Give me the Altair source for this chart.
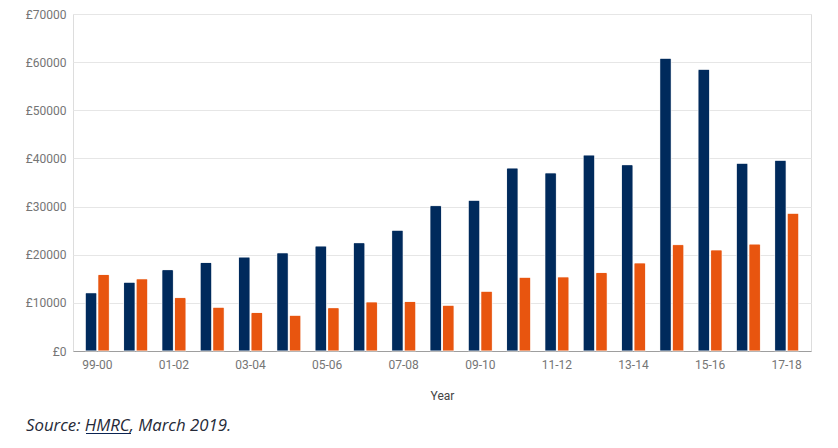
import altair as alt
import pandas as pd

years = ["99-00", "00-01", "01-02", "02-03", "03-04", "04-05", "05-06", "06-07",
         "07-08", "08-09", "09-10", "10-11", "11-12", "12-13", "13-14", "14-15",
         "15-16", "16-17", "17-18"]
series_a = [12100, 14300, 16900, 18400, 19500, 20400, 21800, 22500, 25100, 30200,
            31300, 38000, 37000, 40700, 38700, 60800, 58500, 39000, 39600]
series_b = [15900, 15000, 11100, 9100, 8000, 7400, 9000, 10200, 10300, 9500,
            12400, 15300, 15400, 16300, 18300, 22100, 21000, 22200, 28600]
series_names = ["A", "B"]
shown_labels = years[::2]

rows = []
for i, y in enumerate(years):
    rows.append({"Year": y, "Series": series_names[0], "Value": series_a[i]})
    rows.append({"Year": y, "Series": series_names[1], "Value": series_b[i]})
df = pd.DataFrame(rows)

label_expr = "indexof(" + str(shown_labels).replace("'", '"') + ", datum.value) >= 0 ? datum.value : ''"

bars = alt.Chart(df).mark_bar(cornerRadiusTopLeft=1.5, cornerRadiusTopRight=1.5,
                              stroke="white", strokeWidth=0.5).encode(
    x=alt.X("Year:N", sort=years, title="Year",
            scale=alt.Scale(paddingInner=0.37, paddingOuter=0.32),
            axis=alt.Axis(labelAngle=0, labelExpr=label_expr, ticks=False,
                          domainColor="#9e9e9e", labelColor="#757575",
                          labelFont="Roboto", labelFontSize=12, labelPadding=8,
                          titleFont="Roboto", titleFontSize=12, titleFontWeight="normal",
                          titleColor="#444444", titlePadding=20, labelOverlap=False)),
    xOffset=alt.XOffset("Series:N", scale=alt.Scale(paddingInner=0.08)),
    y=alt.Y("Value:Q", scale=alt.Scale(domain=[0, 70000]), title=None,
            axis=alt.Axis(values=list(range(0, 70001, 10000)), labelExpr="'£' + datum.value",
                          domain=False, ticks=False, gridColor="#e6e6e6",
                          labelColor="#757575", labelFont="Roboto", labelFontSize=12,
                          labelPadding=7)),
    color=alt.Color("Series:N", scale=alt.Scale(domain=series_names,
                                                range=["#002a5c", "#e8550f"]),
                    legend=None),
)

source = alt.Chart(pd.DataFrame({"t": ["Source: HMRC, March 2019."]})).mark_text(
    align="left", baseline="alphabetic", font="Open Sans", fontSize=16.8,
    fontStyle="italic", color="#262a38"
).encode(x=alt.value(-47), y=alt.value(417), text="t:N")

underline = alt.Chart(pd.DataFrame({"u": [1]})).mark_rule(
    color="#0b2452", strokeWidth=1
).encode(x=alt.value(13), x2=alt.value(58), y=alt.value(419.5))

chart = alt.layer(bars, source, underline).properties(
    width=738, height=337,
    autosize=alt.AutoSizeParams(type="none"),
    padding={"left": 65, "top": 6, "right": 19, "bottom": 89},
).configure_view(stroke=None).configure(background="white")

chart.save("out.html", embed_options={"renderer": "svg", "actions": False})
